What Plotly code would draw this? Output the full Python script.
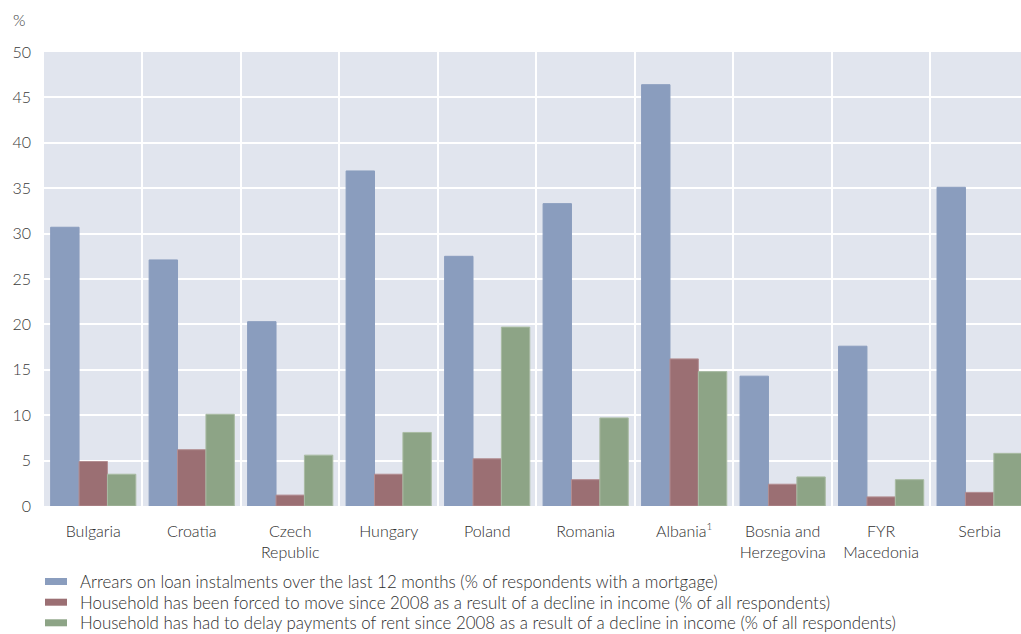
import plotly.graph_objects as go

countries = ["Bulgaria", "Croatia", "Czech<br>Republic", "Hungary", "Poland", "Romania",
             "Albania<sup><span style='font-size:10px'>1</span></sup>", "Bosnia and<br>Herzegovina",
             "FYR<br>Macedonia", "Serbia"]
arrears = [30.7, 27.1, 20.3, 36.9, 27.5, 33.3, 46.4, 14.3, 17.6, 35.1]
forced_move = [4.9, 6.2, 1.2, 3.5, 5.2, 2.9, 16.2, 2.4, 1.0, 1.5]
delay_rent = [3.5, 10.1, 5.6, 8.1, 19.7, 9.7, 14.8, 3.2, 2.9, 5.8]

names = [
    "Arrears on loan instalments over the last 12 months (% of respondents with a mortgage)",
    "Household has been forced to move since 2008 as a result of a decline in income (% of all respondents)",
    "Household has had to delay payments of rent since 2008 as a result of a decline in income (% of all respondents)",
]
colors = ["#8A9DBE", "#9B6F73", "#8DA486"]
line_colors = ["#8A9DBE", "#B38E92", "#A9BBA3"]

W, H = 1021, 634
ML, MR, MT, MB = 44, 0, 52, 128
PW, PH = W - ML - MR, H - MT - MB


def px_x(px):
    return (px - ML) / PW


def px_y(py):
    return (H - MB - py) / PH


fig = go.Figure()
for vals, name, c, lc in zip([arrears, forced_move, delay_rent], names, colors, line_colors):
    fig.add_trace(go.Bar(x=countries, y=vals, name=name, showlegend=False,
                         marker=dict(color=c, line=dict(color=lc, width=1))))

font_family = "Lato, 'Open Sans', sans-serif"
text_color = "#2E2E2E"

shapes = []
annotations = [dict(text="%", xref="paper", yref="paper", x=px_x(11), y=px_y(31),
                    xanchor="left", yanchor="bottom", showarrow=False,
                    font=dict(size=16, color="#3A3A3A", weight=300))]
legend_rows = [581.5, 602.2, 622.8]
for name, c, yc in zip(names, colors, legend_rows):
    shapes.append(dict(type="rect", xref="paper", yref="paper",
                       x0=px_x(45), x1=px_x(67), y0=px_y(yc + 3.5), y1=px_y(yc - 3.5),
                       fillcolor=c, line=dict(width=0)))
    annotations.append(dict(text=name, xref="paper", yref="paper", x=px_x(78), y=px_y(yc),
                            xanchor="left", yanchor="middle", showarrow=False,
                            font=dict(size=16.9, color=text_color, weight=300)))

fig.update_layout(
    width=W, height=H,
    barmode="group", bargap=0.135, bargroupgap=0,
    plot_bgcolor="#E1E5EE", paper_bgcolor="white",
    margin=dict(l=ML, r=MR, t=MT, b=MB, autoexpand=False),
    font=dict(family=font_family, size=16, color=text_color, weight=300),
    showlegend=False,
    shapes=shapes,
    annotations=annotations,
)
fig.update_xaxes(type="category", range=[-0.5, 9.42], tickson="boundaries",
                 showgrid=True, gridcolor="white", gridwidth=2, ticks="",
                 tickfont=dict(size=16, color=text_color, weight=300), zeroline=False,
                 ticklabelstandoff=14)
fig.update_yaxes(range=[0, 50], dtick=5, showgrid=True, gridcolor="white", gridwidth=2,
                 ticks="", tickfont=dict(size=16, color="#3A3A3A", weight=300), zeroline=False,
                 ticklabelstandoff=12)

fig.write_html("out.html")
